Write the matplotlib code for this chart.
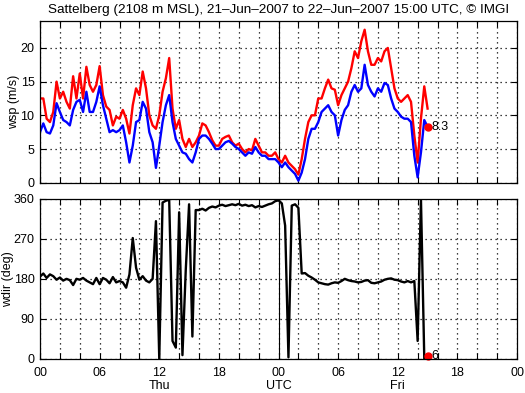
import numpy as np
import matplotlib
matplotlib.use('Agg')
from matplotlib import pyplot as plt

plt.rcParams['font.family'] = ['Liberation Sans', 'DejaVu Sans']

# 20-minute samples starting 21-Jun-2007 00 UTC (hours since start)
step_h = 20 / 60

# wind gust (red) and mean wind speed (blue), m/s
wsp_max = [12.5, 12.5, 9.5, 9.0, 10.5, 15.0, 12.5, 13.5, 12.0, 11.0,
           15.8, 12.5, 16.2, 12.5, 17.2, 14.5, 13.5, 14.5, 17.3, 13.0,
           11.3, 10.8, 8.5, 9.8, 9.5, 10.8, 9.5, 7.3, 11.5, 14.0,
           13.0,
           16.5, 14.0, 10.0, 8.5, 8.0, 10.0, 13.5, 15.5, 18.5, 11.0,
           8.0, 9.3, 6.5, 5.3, 6.5, 5.3, 6.0, 7.0, 8.8, 8.5,
           7.5, 6.3, 5.5, 5.5, 6.5, 6.8, 7.0, 6.0, 5.5, 5.8,
           5.0, 4.5, 5.0, 4.8, 6.5, 5.5, 4.5, 4.5, 4.0, 4.0,
           4.5, 3.5, 3.0, 4.0, 3.0, 2.5, 2.0, 1.2, 3.5, 6.5,
           9.0, 10.0, 10.0, 12.5, 12.5, 14.0, 15.3, 14.0, 13.8, 11.5,
           13.0, 14.0, 15.0, 17.0, 19.5, 18.5, 21.0, 22.7, 19.5, 17.5,
           17.5, 18.5, 18.0, 19.5, 20.0, 17.0, 14.0, 12.5, 12.0, 12.5,
           13.0, 12.0, 7.0, 3.0, 9.5, 14.3, 11.0]
wsp_avg = [7.5, 8.8, 7.5, 7.3, 8.5, 11.8, 10.5, 9.3, 9.0, 8.5,
           10.8, 12.0, 12.3, 10.5, 13.5, 10.5, 10.5, 12.0, 14.3, 11.5,
           9.5, 7.5, 7.8, 7.5, 7.8, 8.5, 6.0, 3.0, 5.5, 9.0,
           9.3,
           12.0, 11.0, 7.5, 6.0, 2.2, 5.5, 9.0, 11.5, 13.0, 9.0,
           6.5, 5.5, 4.5, 4.3, 3.5, 3.0, 4.5, 6.5, 7.0, 7.0,
           6.5, 5.8, 5.0, 5.0, 5.5, 6.0, 6.2, 5.8, 5.3, 5.0,
           4.5, 4.0, 4.5, 4.3, 5.3, 4.5, 4.0, 4.0, 3.5, 3.5,
           3.5, 3.0, 2.3, 3.0, 2.3, 1.8, 1.3, 0.3, 1.5, 3.5,
           6.5, 8.0, 8.0, 9.0, 10.5, 11.0, 11.5, 10.5, 10.0, 7.0,
           9.3, 10.8, 11.5, 13.5, 14.5, 13.5, 14.0, 17.5, 14.5, 13.5,
           12.8, 14.0, 13.5, 14.8, 14.5, 12.5, 11.0, 10.5, 9.8, 9.5,
           9.5, 9.0, 4.0, 0.8, 4.5, 9.3, 8.3]

# wind direction, deg
wdir = [185, 192, 182, 190, 186, 178, 183, 176, 180, 177,
        166, 180, 178, 182, 176, 172, 168, 182, 168, 182,
        178, 170, 184, 172, 175, 172, 160, 190, 272, 205,
        178, 186, 176, 172, 180, 310, 0, 352, 356, 358,
        40, 25, 330, 8, 200, 348, 50, 335,
        335, 338, 334, 340, 343, 341, 345, 347, 344, 346,
        348, 346, 349, 345, 347, 344, 346, 341, 344, 342,
        345, 348, 350, 355, 357, 350, 300, 3, 345, 348,
        340, 192, 193, 187, 183, 178, 172, 170, 168, 167,
        170, 172, 171, 175, 180, 177, 175, 174, 172, 173,
        176, 177, 171, 170, 172, 174, 178, 180, 181, 178,
        177, 174, 172, 175, 172, 175, 40, 360, 2]

last_time = 39.0
last_wsp = 8.3
last_wdir = 6

xticks = np.arange(0, 49, 2)
xlabels = {0: '00', 6: '06', 12: '12\nThu', 18: '18', 24: '00\nUTC',
           30: '06', 36: '12\nFri', 42: '18', 48: '00'}

t_wsp = np.arange(len(wsp_max)) * step_h
t_dir = np.arange(len(wdir)) * step_h

fig = plt.figure(figsize=(5.25, 3.93), dpi=100)
ax1 = fig.add_axes([0.0762, 0.5351, 0.9086, 0.4115])
ax2 = fig.add_axes([0.0762, 0.0873, 0.9086, 0.4064])

for ax in (ax1, ax2):
    ax.set_xlim(0, 48)
    ax.set_xticks(xticks)
    ax.grid(True, linestyle=(0, (1, 3)), color='k', linewidth=0.9)
    ax.axvline(24, color='k', linewidth=0.8)
    ax.tick_params(direction='in', length=4, top=True, right=True,
                   labelsize=9, width=0.8)
    ax.tick_params(axis='y', pad=4)
    ax.tick_params(axis='x', pad=6)
    for s in ax.spines.values():
        s.set_linewidth(0.9)

ax1.plot(t_wsp, wsp_max, color='#ff0000', linewidth=1.7)
ax1.plot(t_wsp, wsp_avg, color='#0000ff', linewidth=1.7)
ax1.plot(last_time, last_wsp, 'o', color='#ff0000', markersize=5)
ax1.text(last_time + 0.4, last_wsp, '%.1f' % last_wsp, fontsize=9,
         va='center', ha='left')
ax1.set_ylim(0, 24)
ax1.set_yticks([0, 5, 10, 15, 20])
ax1.set_xticklabels([])
ax1.set_ylabel('wsp (m/s)', fontsize=9)
ax1.yaxis.set_label_coords(-0.042, 0.5)
ax1.set_title('Sattelberg (2108 m MSL), 21\u2013Jun\u20132007 to 22\u2013Jun\u20132007 15:00 UTC, \u00a9 IMGI',
              fontsize=9.7, pad=6)

ax2.plot(t_dir, wdir, color='k', linewidth=1.7)
ax2.plot(last_time, last_wdir, 'o', color='#ff0000', markersize=5, clip_on=False)
ax2.text(last_time + 0.4, last_wdir, '%d' % last_wdir, fontsize=9,
         va='center', ha='left')
ax2.set_ylim(0, 360)
ax2.set_yticks([0, 90, 180, 270, 360])
ax2.set_xticklabels([xlabels.get(int(x), '') for x in xticks], linespacing=1.1)
ax2.set_ylabel('wdir (deg)', fontsize=9)
ax2.yaxis.set_label_coords(-0.054, 0.5)

fig.savefig('out.png', dpi=100)
